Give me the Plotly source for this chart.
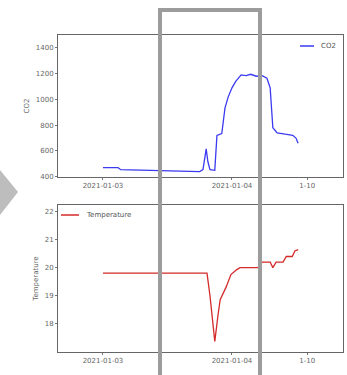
import plotly.graph_objects as go
from plotly.subplots import make_subplots

# ---- data ----
co2_times = ["2021-01-03 00:00", "2021-01-03 02:48", "2021-01-03 03:18", "2021-01-03 08:42",
             "2021-01-03 14:18", "2021-01-03 17:06", "2021-01-03 18:00", "2021-01-03 18:36",
             "2021-01-03 19:12", "2021-01-03 19:30", "2021-01-03 19:54", "2021-01-03 20:48",
             "2021-01-03 21:12", "2021-01-03 22:06", "2021-01-03 22:42", "2021-01-03 23:18",
             "2021-01-04 00:00", "2021-01-04 00:42", "2021-01-04 01:42", "2021-01-04 02:36",
             "2021-01-04 03:30", "2021-01-04 04:30", "2021-01-04 05:36", "2021-01-04 06:30",
             "2021-01-04 07:06", "2021-01-04 07:36", "2021-01-04 08:24", "2021-01-04 09:54",
             "2021-01-04 11:18", "2021-01-04 11:54", "2021-01-04 12:18"]
co2_values = [470, 470, 455, 450, 448, 442, 440, 455, 617, 520, 455, 450,
              720, 735, 935, 1020, 1090, 1140, 1190, 1185, 1195, 1180, 1185, 1165,
              1090, 780, 740, 730, 722, 700, 660]

temp_times = ["2021-01-03 00:00", "2021-01-03 19:21", "2021-01-03 19:54", "2021-01-03 20:30",
              "2021-01-03 20:48", "2021-01-03 21:24", "2021-01-03 21:48", "2021-01-03 22:54",
              "2021-01-03 23:48", "2021-01-04 00:54", "2021-01-04 01:30", "2021-01-04 04:48",
              "2021-01-04 05:36", "2021-01-04 07:06", "2021-01-04 07:36", "2021-01-04 08:12",
              "2021-01-04 09:30", "2021-01-04 10:06", "2021-01-04 11:12", "2021-01-04 11:42",
              "2021-01-04 12:18"]
temp_values = [19.8, 19.8, 19.0, 17.8, 17.35, 18.3, 18.85, 19.3, 19.75, 19.93, 20.0, 20.0,
               20.2, 20.2, 20.0, 20.2, 20.2, 20.4, 20.4, 20.6, 20.65]

x_tick_vals = ["2021-01-03", "2021-01-04", "2021-01-04 14:00"]
x_tick_text = ["2021-01-03", "2021-01-04", "1-10"]
co2_ticks = [400, 600, 800, 1000, 1200, 1400]
temp_ticks = [18, 19, 20, 21, 22]

W, H = 347, 375
def px(x): return x / W
def py(y): return 1 - y / H

fig = make_subplots(rows=2, cols=1)
fig.add_trace(go.Scatter(x=co2_times, y=co2_values, mode="lines", name="CO2",
                         line=dict(color="#3a3af0", width=1.3), showlegend=False), row=1, col=1)
fig.add_trace(go.Scatter(x=temp_times, y=temp_values, mode="lines", name="Temperature",
                         line=dict(color="#d42a2a", width=1.3), showlegend=False), row=2, col=1)

xrange = ["2021-01-02 15:38", "2021-01-04 20:39"]
font_tick = dict(family="DejaVu Sans", size=7, color="#666")
axis_common = dict(showgrid=False, zeroline=False, showline=True, linecolor="#666", linewidth=1,
                   mirror=True, ticks="outside", ticklen=2, tickcolor="#777", tickfont=font_tick,
                   automargin=False)

fig.update_xaxes(range=xrange, tickvals=x_tick_vals, ticktext=x_tick_text,
                 domain=[px(58), px(343)], **axis_common)
fig.update_yaxes(**axis_common)
fig.update_yaxes(row=1, col=1, range=[398, 1500], tickvals=co2_ticks,
                 domain=[py(177), py(35)],
                 title=dict(text="CO2", font=dict(family="DejaVu Sans", size=7, color="#666"), standoff=5))
fig.update_yaxes(row=2, col=1, range=[16.97, 22.25], tickvals=temp_ticks,
                 domain=[py(352), py(205)],
                 title=dict(text="Temperature", font=dict(family="DejaVu Sans", size=7, color="#666"), standoff=5))

shapes = []
# white mask over right part of plots
shapes.append(dict(type="rect", xref="paper", yref="paper", x0=px(300), x1=px(342),
                   y0=py(176), y1=py(36), fillcolor="white", line=dict(width=0), layer="above"))
shapes.append(dict(type="rect", xref="paper", yref="paper", x0=px(300), x1=px(342),
                   y0=py(351), y1=py(206), fillcolor="white", line=dict(width=0), layer="above"))
# highlight rectangle
shapes.append(dict(type="rect", xref="paper", yref="paper", x0=px(160), x1=px(260),
                   y0=-0.05, y1=py(10), line=dict(color="#9c9c9c", width=4), layer="above"))
# arrow triangle
shapes.append(dict(type="path", xref="paper", yref="paper",
                   path=f"M 0,{py(170)} L {px(18)},{py(192)} L 0,{py(215)} Z",
                   fillcolor="#bdbdbd", line=dict(width=0), layer="above"))
# manual legends
shapes.append(dict(type="line", xref="paper", yref="paper", x0=px(300), x1=px(314),
                   y0=py(46), y1=py(46), line=dict(color="#3a3af0", width=1.5), layer="above"))
shapes.append(dict(type="line", xref="paper", yref="paper", x0=px(61), x1=px(79),
                   y0=py(215), y1=py(215), line=dict(color="#d42a2a", width=1.5), layer="above"))

annotations = [
    dict(text="CO2", xref="paper", yref="paper", x=px(319), y=py(46), showarrow=False,
         xanchor="left", yanchor="middle", font=dict(family="DejaVu Sans", size=7, color="#555")),
    dict(text="Temperature", xref="paper", yref="paper", x=px(84), y=py(215), showarrow=False,
         xanchor="left", yanchor="middle", font=dict(family="DejaVu Sans", size=7, color="#555")),
]

fig.update_layout(width=W, height=H, margin=dict(l=0, r=0, t=0, b=0),
                  paper_bgcolor="white", plot_bgcolor="white",
                  shapes=shapes, annotations=annotations, showlegend=False)

fig.write_html("out.html", config={"displayModeBar": False},
               post_script="document.body.style.margin='0';document.body.style.overflow='hidden';")
